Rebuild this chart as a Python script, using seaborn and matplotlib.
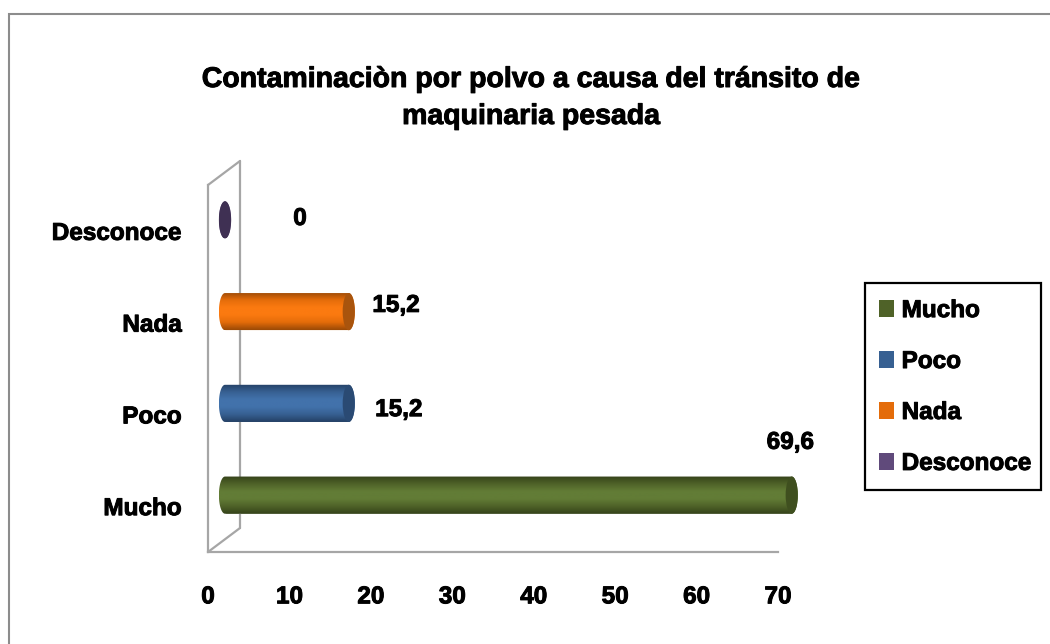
import numpy as np
import pandas as pd
from matplotlib import pyplot as plt
from matplotlib import patheffects as pe
from matplotlib import transforms
from matplotlib.colors import LinearSegmentedColormap
from matplotlib.patches import Ellipse, Patch, PathPatch, Rectangle
from matplotlib.path import Path
import seaborn as sns

# data
categorias = ['Desconoce', 'Nada', 'Poco', 'Mucho']
valores = [0, 15.2, 15.2, 69.6]
etiquetas = ['0', '15,2', '15,2', '69,6']
orden_leyenda = ['Mucho', 'Poco', 'Nada', 'Desconoce']
titulo = 'Contaminaciòn por polvo a causa del tránsito de\nmaquinaria pesada'
xticks = [0, 10, 20, 30, 40, 50, 60, 70]

# colours: base, dark edge, light middle, end cap
colores = {'Mucho': '#4f6228', 'Poco': '#376092', 'Nada': '#e46c0a', 'Desconoce': '#604a7b'}
oscuros = {'Mucho': '#35431a', 'Poco': '#244166', 'Nada': '#9c4a06', 'Desconoce': '#3f3053'}
claros = {'Mucho': '#627c36', 'Poco': '#4272ab', 'Nada': '#fb7a10', 'Desconoce': '#4f3c68'}
tapas = {'Mucho': '#3f4f1f', 'Poco': '#2a4a73', 'Nada': '#a9540d', 'Desconoce': '#3f3053'}

# where each value label sits from the bar end, in points
offset_etiquetas = [(54, 1), (34, 4.5), (36, -4.5), (-1, 38)]

sns.set_style('white')
plt.rcParams['font.family'] = ['Liberation Sans', 'DejaVu Sans']
plt.rcParams['font.weight'] = 'bold'
plt.rcParams['text.color'] = 'black'
plt.rcParams['xtick.color'] = 'black'
plt.rcParams['ytick.color'] = 'black'

grueso = [pe.withStroke(linewidth=0.7, foreground='black')]

W, H = 1050, 644
fig = plt.figure(figsize=(W / 100, H / 100), dpi=100)
ax = fig.add_axes([208 / W, (H - 552) / H, (778 - 208) / W, (552 - 185) / H])

df = pd.DataFrame({'categoria': categorias, 'valor': valores})
sns.barplot(data=df, y='categoria', x='valor', hue='categoria', order=categorias,
            hue_order=categorias, palette=colores, width=0.405, legend=False, ax=ax)
barras = list(ax.patches)
ax.set_xlim(0, 70)
ax.set_ylim(3.5, -0.5)
ax.set_xticks(xticks)
ax.set_xlabel('')
ax.set_ylabel('')
ax.tick_params(axis='x', length=0, pad=24, labelsize=17.5)
ax.tick_params(axis='y', length=0, pad=19, labelsize=17.5)
for lab in ax.get_xticklabels() + ax.get_yticklabels():
    lab.set_path_effects(grueso)
sns.despine(ax=ax)
for lado in ['left', 'bottom']:
    ax.spines[lado].set_color('#a6a6a6')
    ax.spines[lado].set_linewidth(1.6)
ax.patch.set_alpha(0)

# back wall of the fake 3d box
fondo = ax.transData + transforms.ScaledTranslation(32 / 100, 24 / 100, fig.dpi_scale_trans)
ax.plot([0, 0], [-0.5, 3.5], color='#a6a6a6', lw=1.6, transform=fondo, clip_on=False, zorder=1)
base = ax.transData.transform([(0, 3.5), (0, -0.5)])
arriba = fondo.transform([(0, 3.5), (0, -0.5)])
for p, q in zip(base, arriba):
    ax.add_line(plt.Line2D([p[0], q[0]], [p[1], q[1]], color='#a6a6a6', lw=1.6,
                           transform=transforms.IdentityTransform(), clip_on=False, zorder=1))

# cylinders built on the seaborn bars
cilindro = ax.transData + transforms.ScaledTranslation(17 / 100, 11 / 100, fig.dpi_scale_trans)
radio = 0.75
t = np.linspace(-np.pi / 2, np.pi / 2, 40)
for barra, cat, val, txt, off in zip(barras, categorias, valores, etiquetas, offset_etiquetas):
    y0, alto = barra.get_y(), barra.get_height()
    yc = y0 + alto / 2
    der = np.column_stack([val + radio * np.cos(t), yc + alto / 2 * np.sin(t)])
    izq = np.column_stack([-radio * np.cos(t[::-1]), yc + alto / 2 * np.sin(t[::-1])])
    contorno = Path(np.vstack([der, izq, der[:1]]))
    forma = PathPatch(contorno, transform=cilindro, facecolor='none', edgecolor='none')
    ax.add_patch(forma)
    barra.set_transform(cilindro)
    barra.set_clip_box(None)
    barra.set_clip_path(forma)
    mapa = LinearSegmentedColormap.from_list(cat, [oscuros[cat], colores[cat], claros[cat], claros[cat],
                                                   colores[cat], oscuros[cat]])
    degradado = np.linspace(0, 1, 64).reshape(-1, 1)
    img = ax.imshow(degradado, cmap=mapa, aspect='auto', origin='upper', zorder=3,
                    extent=(-radio, val + radio, y0 + alto, y0))
    img.set_transform(cilindro)
    img.set_clip_box(fig.bbox)  # otherwise the image stops at the axes edge
    img.set_clip_path(forma)
    ax.add_patch(Ellipse((val, yc), 2 * radio, alto, transform=cilindro, facecolor=tapas[cat],
                         edgecolor='none', zorder=4, clip_on=False))
    ax.annotate(txt, xy=(val, yc), xycoords=cilindro, xytext=off, textcoords='offset points',
                ha='center', va='center', fontsize=17.5, annotation_clip=False, path_effects=grueso)

ax.set_xlim(0, 70)
ax.set_ylim(3.5, -0.5)

fig.text(531 / W, 1 - 98.5 / H, titulo, ha='center', va='center', fontsize=20.5, linespacing=1.55,
         path_effects=grueso)

# legend box is drawn apart so its width and height can differ from the label padding
fig.add_artist(Rectangle((865 / W, 1 - 490 / H), 176 / W, 207 / H, transform=fig.transFigure,
                         facecolor='white', edgecolor='black', lw=1.6))
handles = [Patch(facecolor=colores[c], edgecolor='none', label=c) for c in orden_leyenda]
ley = fig.legend(handles=handles, loc='center', bbox_to_anchor=(955 / W, 1 - 387 / H), fontsize=17.5,
                 frameon=False, labelspacing=1.15, handlelength=0.65, handleheight=0.65,
                 handletextpad=0.3, borderpad=0.5)
for texto in ley.get_texts():
    texto.set_path_effects(grueso)

# outer chart border
fig.add_artist(Rectangle((9 / W, -0.02), 1.02, 1 - 14 / H + 0.02, transform=fig.transFigure,
                         facecolor='none', edgecolor='#8c8c8c', lw=1.5))

plt.savefig('out.png', dpi=100)
